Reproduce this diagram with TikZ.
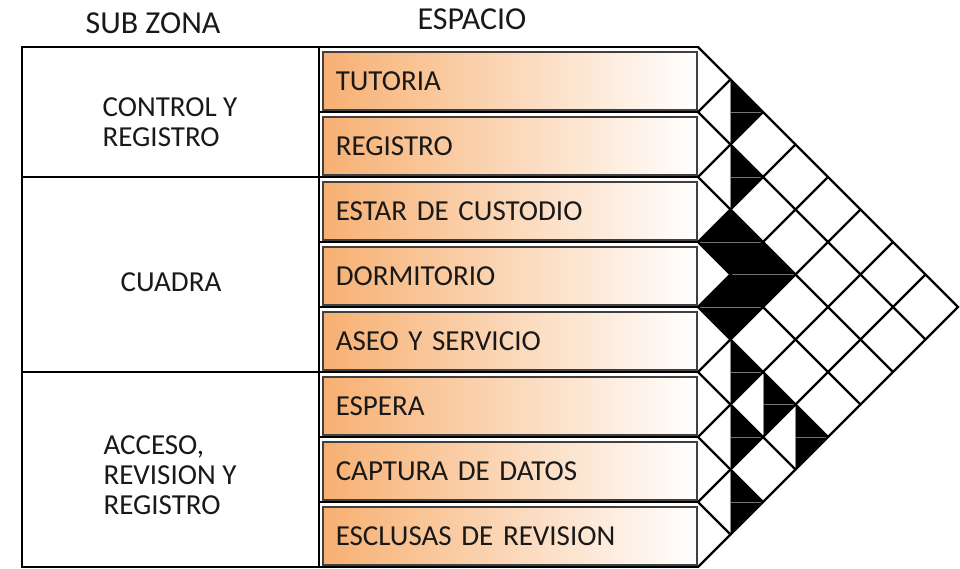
\documentclass[tikz,border=0pt]{standalone}
\usepackage{fontspec}
\setmainfont{Carlito}
\usetikzlibrary{positioning}
\definecolor{espnaranja}{RGB}{247,176,114}
\definecolor{textogris}{RGB}{25,25,25}

\begin{document}
\begin{tikzpicture}[x=1pt,y=-1pt,font=\fontsize{29}{30}\selectfont,
    cab/.style={text=textogris,inner sep=0pt,font=\fontsize{32}{34}\selectfont},
    zona/.style={text=textogris,align=left,inner sep=0pt},
    esp/.style={draw=black!75,line width=1.5pt,left color=espnaranja,
      right color=white,minimum width=374pt,minimum height=58pt,
      text width=348pt,inner xsep=13pt,align=left,anchor=north west,
      text=textogris},
    marco/.style={line width=2.4pt},
    reticula/.style={line width=2.2pt,line cap=round},
    costura/.style={black!55,line width=0.8pt}]
  \useasboundingbox (0,0) rectangle (960,568);
  % encabezados
  \node[cab] (subzona) at (153,23) {SUB ZONA};
  \node[cab] (espacio) at (472,19) {ESPACIO};
  % marco de la tabla
  \draw[marco] (698,47) -- (22,47) -- (22,567) -- (698,567);
  \draw[marco] (319,47) -- (319,567);
  \draw[line width=1.6pt] (22,177) -- (319,177) (22,372) -- (319,372);
  \foreach \k in {1,...,7}
    \draw[line width=2pt] (319,{47+65*\k}) -- (698,{47+65*\k});
  % sub zonas
  \node[zona] (z1) at (170,122) {CONTROL Y\\REGISTRO};
  \node[zona] (z2) at (171,282) {CUADRA};
  \node[zona] (z3) at (170,475) {ACCESO,\\REVISION Y\\REGISTRO};
  % espacios
  \foreach \t [count=\k] in {TUTORIA,REGISTRO,ESTAR DE CUSTODIO,DORMITORIO,
      ASEO Y SERVICIO,ESPERA,CAPTURA DE DATOS,ESCLUSAS DE REVISION}
    \node[esp] (e\k) at (322,{47+65*(\k-1)+4}) {\t};
  % matriz de relaciones
  \begin{scope}[shift={(698,47)},x=32.5pt,y=-32.5pt]
    % media relacion: mitad derecha del rombo
    \foreach \cx/\cy in {1/2,1/4,1/10,2/11,3/12,1/12,1/14}{
      \fill (\cx,\cy-1) -- (\cx+1,\cy) -- (\cx,\cy+1) -- cycle;
      \draw[costura] (\cx,\cy) -- (\cx+1,\cy);
      \draw[black!45,line width=0.8pt] (\cx,\cy-1) -- (\cx,\cy+1);
    }
    % relacion completa
    \foreach \cx/\cy in {1/6,2/7,1/8}{
      \fill (\cx-1,\cy) -- (\cx,\cy-1) -- (\cx+1,\cy) -- (\cx,\cy+1) -- cycle;
      \draw[costura] (\cx-1,\cy) -- (\cx+1,\cy);
    }
    % reticula
    \draw[reticula] (0,0) -- (8,8) -- (0,16);
    \foreach \k in {1,...,7}
      \draw[reticula] (0,2*\k) -- (\k,\k) (0,2*\k) -- (8-\k,8+\k);
  \end{scope}
\end{tikzpicture}
\end{document}
